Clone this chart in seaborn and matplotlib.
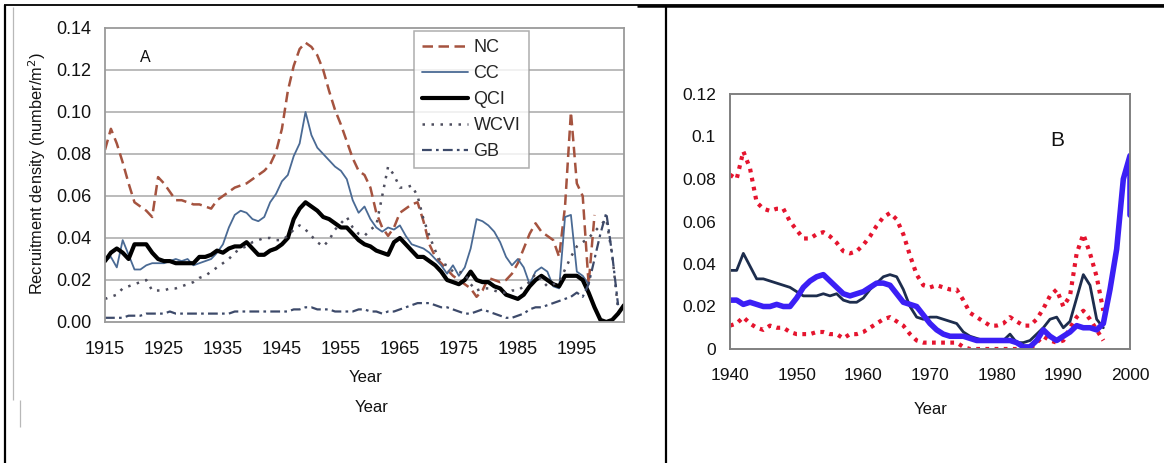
import numpy as np
import matplotlib
matplotlib.use("Agg")
import matplotlib.pyplot as plt
import seaborn as sns
from matplotlib.lines import Line2D
from matplotlib.ticker import FixedLocator, FuncFormatter

# ---------------- Panel A: recruitment density by region ----------------
nc_years = np.arange(1915, 1999)
nc_vals = [0.082, 0.092, 0.085, 0.076, 0.066, 0.057, 0.055, 0.053, 0.050, 0.069,
           0.066, 0.062, 0.058, 0.058, 0.057, 0.056, 0.056, 0.055, 0.054, 0.058,
           0.060, 0.062, 0.064, 0.065, 0.066, 0.068, 0.070, 0.072, 0.075, 0.081,
           0.092, 0.110, 0.122, 0.130, 0.133, 0.131, 0.127, 0.120, 0.110, 0.101,
           0.094, 0.086, 0.078, 0.072, 0.070, 0.064, 0.052, 0.045, 0.041, 0.045,
           0.052, 0.054, 0.056, 0.057, 0.048, 0.037, 0.031, 0.028, 0.025, 0.022,
           0.020, 0.018, 0.016, 0.012, 0.015, 0.021, 0.020, 0.019, 0.020, 0.023,
           0.028, 0.035, 0.042, 0.047, 0.043, 0.041, 0.039, 0.031, 0.055, 0.100,
           0.066, 0.060, 0.018, 0.051]

cc_years = np.arange(1915, 1998)
cc_vals = [0.029, 0.031, 0.026, 0.039, 0.032, 0.025, 0.025, 0.027, 0.028, 0.028,
           0.028, 0.029, 0.030, 0.029, 0.030, 0.027, 0.028, 0.029, 0.030, 0.033,
           0.037, 0.045, 0.051, 0.053, 0.052, 0.049, 0.048, 0.050, 0.057, 0.061,
           0.067, 0.070, 0.079, 0.085, 0.100, 0.089, 0.083, 0.080, 0.077, 0.074,
           0.072, 0.068, 0.058, 0.052, 0.055, 0.049, 0.045, 0.043, 0.045, 0.044,
           0.046, 0.041, 0.037, 0.036, 0.035, 0.033, 0.030, 0.027, 0.023, 0.027,
           0.022, 0.026, 0.035, 0.049, 0.048, 0.046, 0.043, 0.038, 0.031, 0.027,
           0.030, 0.026, 0.018, 0.024, 0.026, 0.024, 0.017, 0.016, 0.050, 0.051,
           0.024, 0.022, 0.018]

qci_years = np.arange(1915, 2004)
qci_vals = [0.029, 0.033, 0.035, 0.033, 0.030, 0.037, 0.037, 0.037, 0.033, 0.030,
            0.029, 0.029, 0.028, 0.028, 0.028, 0.028, 0.031, 0.031, 0.032, 0.034,
            0.033, 0.035, 0.036, 0.036, 0.038, 0.035, 0.032, 0.032, 0.034, 0.035,
            0.037, 0.040, 0.049, 0.054, 0.057, 0.055, 0.053, 0.050, 0.049, 0.047,
            0.045, 0.045, 0.042, 0.039, 0.037, 0.036, 0.034, 0.033, 0.032, 0.038,
            0.040, 0.037, 0.034, 0.031, 0.031, 0.029, 0.027, 0.024, 0.020, 0.019,
            0.018, 0.020, 0.024, 0.020, 0.019, 0.019, 0.017, 0.016, 0.013, 0.012,
            0.011, 0.013, 0.017, 0.020, 0.022, 0.020, 0.018, 0.017, 0.022, 0.022,
            0.022, 0.020, 0.014, 0.007, 0.001, 0.000, 0.001, 0.004, 0.008]

wcvi_years = np.arange(1915, 2003)
wcvi_vals = [0.011, 0.012, 0.013, 0.016, 0.017, 0.018, 0.019, 0.020, 0.015, 0.015,
             0.015, 0.016, 0.016, 0.017, 0.018, 0.019, 0.021, 0.022, 0.024, 0.026,
             0.028, 0.030, 0.033, 0.035, 0.036, 0.038, 0.039, 0.040, 0.040, 0.039,
             0.039, 0.041, 0.044, 0.046, 0.044, 0.041, 0.038, 0.036, 0.039, 0.044,
             0.047, 0.050, 0.045, 0.042, 0.041, 0.044, 0.046, 0.060, 0.074, 0.070,
             0.064, 0.064, 0.065, 0.060, 0.049, 0.041, 0.034, 0.028, 0.027, 0.024,
             0.024, 0.023, 0.018, 0.015, 0.016, 0.016, 0.015, 0.014, 0.014, 0.015,
             0.015, 0.017, 0.019, 0.023, 0.020, 0.017, 0.018, 0.019, 0.025, 0.031,
             0.036, 0.038, 0.040, 0.043, 0.046, 0.049, 0.032, 0.006]

gb_years = np.arange(1915, 2003)
gb_vals = [0.002, 0.002, 0.002, 0.002, 0.003, 0.003, 0.003, 0.004, 0.004, 0.004,
           0.004, 0.005, 0.004, 0.004, 0.004, 0.004, 0.004, 0.004, 0.004, 0.004,
           0.004, 0.004, 0.005, 0.005, 0.005, 0.005, 0.005, 0.005, 0.005, 0.005,
           0.005, 0.005, 0.006, 0.006, 0.007, 0.007, 0.006, 0.006, 0.006, 0.005,
           0.005, 0.005, 0.005, 0.006, 0.006, 0.005, 0.005, 0.004, 0.005, 0.005,
           0.006, 0.007, 0.008, 0.009, 0.009, 0.009, 0.008, 0.007, 0.007, 0.006,
           0.005, 0.004, 0.004, 0.005, 0.006, 0.005, 0.004, 0.003, 0.002, 0.002,
           0.003, 0.004, 0.006, 0.007, 0.007, 0.008, 0.009, 0.010, 0.011, 0.012,
           0.014, 0.012, 0.018, 0.030, 0.042, 0.052, 0.032, 0.008]

region_labels = ["NC", "CC", "QCI", "WCVI", "GB"]
a_yticks = [0.00, 0.02, 0.04, 0.06, 0.08, 0.10, 0.12, 0.14]

# ---------------- Panel B: 1940-2000 series ----------------
b_years = np.arange(1940, 1997)
b_upper = [0.082, 0.080, 0.093, 0.085, 0.069, 0.066, 0.065, 0.066, 0.066, 0.060,
           0.056, 0.052, 0.052, 0.054, 0.055, 0.053, 0.050, 0.046, 0.045, 0.046,
           0.049, 0.053, 0.058, 0.062, 0.064, 0.061, 0.054, 0.044, 0.035, 0.030,
           0.029, 0.030, 0.029, 0.028, 0.028, 0.023, 0.017, 0.015, 0.013, 0.011,
           0.011, 0.012, 0.015, 0.013, 0.011, 0.011, 0.014, 0.019, 0.025, 0.028,
           0.020, 0.025, 0.045, 0.054, 0.045, 0.034, 0.018]
b_lower = [0.011, 0.012, 0.015, 0.012, 0.010, 0.009, 0.011, 0.010, 0.010, 0.008,
           0.007, 0.007, 0.007, 0.008, 0.008, 0.007, 0.007, 0.005, 0.007, 0.007,
           0.008, 0.010, 0.012, 0.014, 0.015, 0.013, 0.011, 0.007, 0.004, 0.003,
           0.003, 0.003, 0.003, 0.003, 0.003, 0.001, 0.000, 0.000, 0.000, 0.000,
           0.000, 0.000, 0.000, 0.000, 0.000, 0.000, 0.003, 0.006, 0.004, 0.003,
           0.004, 0.010, 0.015, 0.018, 0.014, 0.009, 0.004]
b_observed = [0.037, 0.037, 0.045, 0.039, 0.033, 0.033, 0.032, 0.031, 0.030, 0.029,
              0.027, 0.025, 0.025, 0.025, 0.026, 0.025, 0.026, 0.023, 0.022, 0.022,
              0.024, 0.028, 0.031, 0.034, 0.035, 0.034, 0.028, 0.020, 0.015, 0.014,
              0.015, 0.015, 0.014, 0.013, 0.012, 0.008, 0.006, 0.005, 0.004, 0.004,
              0.004, 0.004, 0.007, 0.003, 0.003, 0.004, 0.007, 0.010, 0.014, 0.015,
              0.010, 0.013, 0.024, 0.035, 0.030, 0.014, 0.010]
b_model_years = list(range(1940, 2001)) + [2000]
b_model = [0.023, 0.023, 0.021, 0.022, 0.021, 0.020, 0.020, 0.021, 0.020, 0.020,
           0.024, 0.029, 0.032, 0.034, 0.035, 0.032, 0.029, 0.026, 0.025, 0.026,
           0.027, 0.029, 0.031, 0.031, 0.030, 0.026, 0.022, 0.021, 0.020, 0.016,
           0.012, 0.009, 0.007, 0.006, 0.006, 0.006, 0.005, 0.004, 0.004, 0.004,
           0.004, 0.004, 0.004, 0.003, 0.001, 0.001, 0.004, 0.009, 0.006, 0.004,
           0.006, 0.008, 0.011, 0.010, 0.010, 0.009, 0.012, 0.028, 0.047, 0.080,
           0.091, 0.063]
b_xticks = [1940, 1950, 1960, 1970, 1980, 1990, 2000]
b_yticks = [0, 0.02, 0.04, 0.06, 0.08, 0.10, 0.12]

# ---------------- figure setup ----------------
sns.set_style("white")
plt.rcParams["font.family"] = ["Liberation Sans", "DejaVu Sans"]

W, H = 1164, 463
fig = plt.figure(figsize=(W / 100, H / 100), dpi=100)


def box(left, top, right, bottom):
    return [left / W, 1 - bottom / H, (right - left) / W, (bottom - top) / H]


def fx(x):
    return x / W


def fy(y):
    return 1 - y / H


# ---------------- Panel A ----------------
axA = fig.add_axes(box(105, 28, 624, 322))
grid_grey = "#a8a8a8"
axA.set_xlim(1915, 2003)
axA.set_ylim(0, 0.14)
for v in a_yticks[1:-1]:
    axA.axhline(v, color=grid_grey, lw=1.1, zorder=0)

styles_a = [
    (nc_years, nc_vals, dict(color="#a5533f", lw=1.8, linestyle=(0, (4.2, 2.2)))),
    (cc_years, cc_vals, dict(color="#4a6a94", lw=1.3, linestyle="-")),
    (qci_years, qci_vals, dict(color="#000000", lw=3.0, linestyle="-")),
    (wcvi_years, wcvi_vals, dict(color="#4e4e5e", lw=1.8, linestyle=(0, (1.0, 2.6)))),
    (gb_years, gb_vals, dict(color="#3d4a6a", lw=1.6, linestyle=(0, (4.4, 1.9, 1.2, 1.9)))),
]
for yrs, vals, kw in styles_a:
    sns.lineplot(x=yrs, y=vals, ax=axA, estimator=None, sort=False, legend=False, **kw)

axA.set_xlabel("")
axA.set_ylabel("")
axA.xaxis.set_major_locator(FixedLocator(list(range(1915, 2001, 5))))
axA.set_xticklabels([str(y) if (y - 1915) % 10 == 0 else "" for y in range(1915, 2001, 5)])
axA.set_yticks(a_yticks)
axA.set_yticklabels([f"{v:.2f}" for v in a_yticks])
axA.tick_params(axis="both", direction="out", length=5, width=1.1, color="#8c8c8c",
                labelsize=13, labelcolor="#111111")
axA.tick_params(axis="y", pad=5)
axA.tick_params(axis="x", pad=9)
for s in axA.spines.values():
    s.set_color("#9a9a9a")
    s.set_linewidth(1.3)
    s.set_visible(True)

handles = [Line2D([0], [0], **kw) for (_, _, kw) in styles_a]
leg = axA.legend(handles, region_labels, loc="upper left",
                 bbox_to_anchor=(fx(414), fy(31)), bbox_transform=fig.transFigure,
                 frameon=True, fancybox=False, fontsize=13, handlelength=2.55,
                 handletextpad=0.3, labelspacing=0.5, borderpad=0.45,
                 borderaxespad=0)
leg.get_frame().set_edgecolor("#9a9a9a")
leg.get_frame().set_linewidth(1.1)

fig.text(fx(145), fy(58), "A", fontsize=11.5, ha="center", va="center", color="#111111")
fig.text(fx(37), fy(174), "Recruitment density (number/m$^2$)", rotation=90,
         fontsize=11.8, ha="center", va="center", color="#111111")
fig.text(fx(366), fy(378), "Year", fontsize=12, ha="center", va="center", color="#111111")
fig.text(fx(372), fy(407), "Year", fontsize=12, ha="center", va="center", color="#111111")

# ---------------- Panel B ----------------
axB = fig.add_axes(box(730, 94, 1130, 349))
axB.set_xlim(1940, 2000)
axB.set_ylim(0, 0.12)
red = "#e5142e"
sns.lineplot(x=b_years, y=b_upper, ax=axB, estimator=None, sort=False, legend=False,
             color=red, lw=3.0, linestyle=(0, (0.9, 1.3)))
sns.lineplot(x=b_years, y=b_lower, ax=axB, estimator=None, sort=False, legend=False,
             color=red, lw=3.0, linestyle=(0, (0.9, 1.3)))
sns.lineplot(x=b_years, y=b_observed, ax=axB, estimator=None, sort=False, legend=False,
             color="#1d2d4d", lw=2.0)
sns.lineplot(x=b_model_years, y=b_model, ax=axB, estimator=None, sort=False, legend=False,
             color="#3b1ff5", lw=4.0)
axB.set_xlabel("")
axB.set_ylabel("")
axB.set_xticks(b_xticks)
axB.set_xticklabels([str(v) for v in b_xticks])
axB.set_yticks(b_yticks)
axB.yaxis.set_major_formatter(FuncFormatter(lambda v, p: f"{v:g}"))
axB.tick_params(axis="both", direction="out", length=5, width=1.2, color="#7a7a7a",
                labelsize=12.5, labelcolor="#111111")
axB.tick_params(axis="y", pad=5)
axB.tick_params(axis="x", pad=9)
for s in axB.spines.values():
    s.set_color("#808080")
    s.set_linewidth(1.4)
    s.set_visible(True)

fig.text(fx(1057), fy(141), "B", fontsize=15, ha="center", va="center", color="#111111")
fig.text(fx(931), fy(409), "Year", fontsize=12, ha="center", va="center", color="#111111")

# ---------------- table rules around the two panels ----------------
def rule(x0, y0, x1, y1, color="black", lw=1.5):
    fig.add_artist(Line2D([fx(x0), fx(x1)], [fy(y0), fy(y1)], transform=fig.transFigure,
                          color=color, lw=lw, solid_capstyle="butt"))


rule(5, 5, 5, 463, lw=1.6)
rule(4, 5, 1164, 5, lw=1.3)
rule(637, 5.5, 1164, 5.5, lw=1.8)
rule(666, 5, 666, 463, lw=1.6)
rule(13, 7, 13, 400, color="#b8b8b8", lw=0.9)
rule(20, 400, 20, 427, color="#b8b8b8", lw=0.9)

fig.savefig("out.png", dpi=100)
